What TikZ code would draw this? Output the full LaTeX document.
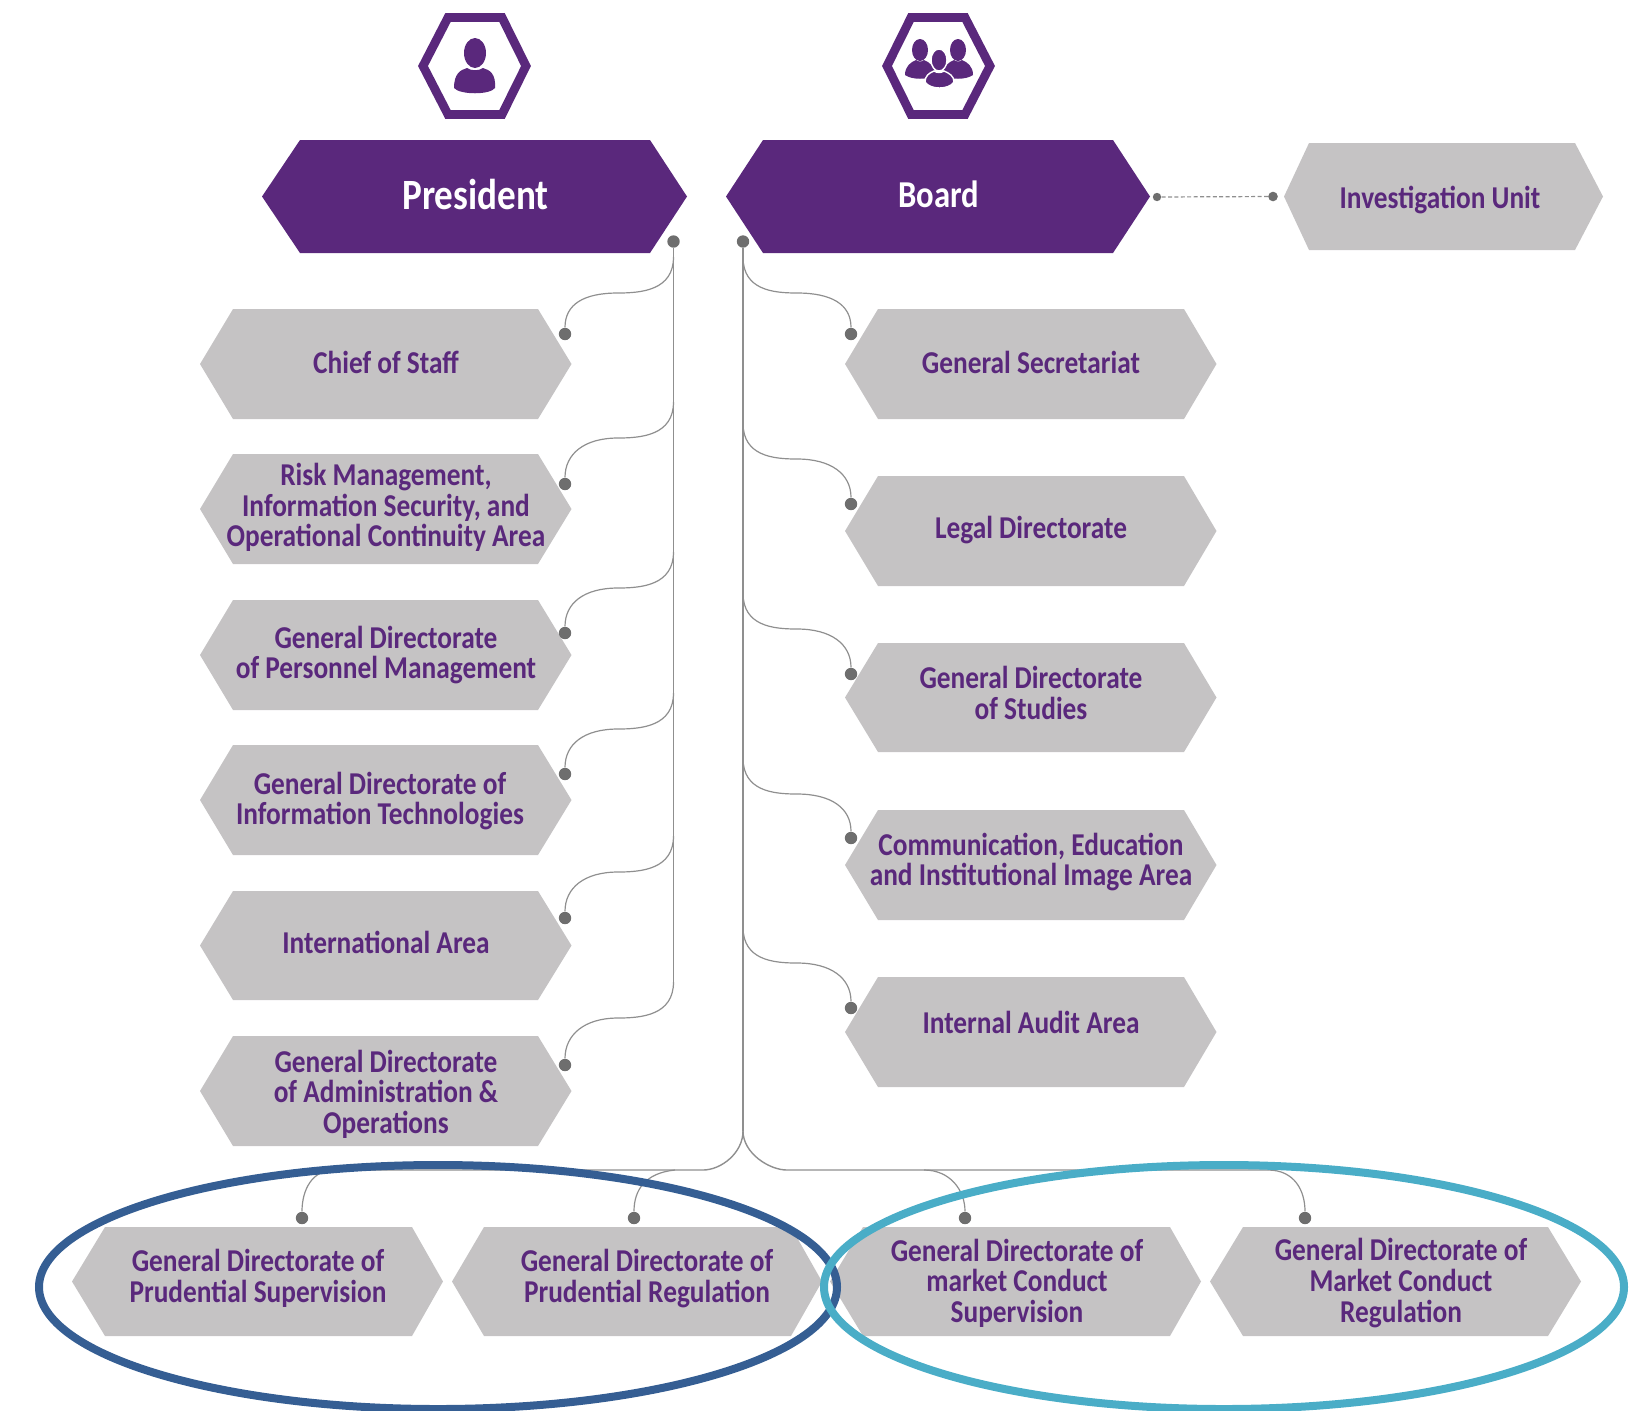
\documentclass[tikz,border=0pt]{standalone}
\usepackage{fontspec}
\setmainfont{Carlito}[BoldFont={Carlito Bold},BoldFeatures={FakeStretch=0.86},FakeStretch=0.86]
\definecolor{purp}{HTML}{5A287C}
\definecolor{greyfill}{HTML}{C5C3C4}
\definecolor{dotc}{HTML}{6E6E6E}
\definecolor{linec}{HTML}{8F8F8F}
\definecolor{bluec}{HTML}{355E93}
\definecolor{tealc}{HTML}{4AADC7}
\tikzset{
  lbl/.style={align=center,text=purp,font=\fontsize{15.9}{15.3}\selectfont\bfseries,inner sep=0pt,xshift=0.5pt},
  toplbl/.style={align=center,text=white,inner sep=0pt},
  conn/.style={draw=linec,line width=0.6pt},
  trunk/.style={draw=linec,line width=0.7pt},
  dotn/.style={circle,fill=dotc,inner sep=0pt,minimum size=6.2pt},
  ring/.style={line width=4pt}
}
% #1 name #2 fill #3 xl #4 xs1 #5 xs2 #6 xr #7 yt #8 yb
\newcommand{\hexshape}[8]{%
  \fill[#2] (#3,{(#7+#8)/2}) -- (#4,#7) -- (#5,#7) -- (#6,{(#7+#8)/2}) -- (#5,#8) -- (#4,#8) -- cycle;
  \coordinate (#1) at ({(#3+#6)/2},{(#7+#8)/2});
}
\begin{document}
\begin{tikzpicture}[x=0.5pt,y=-0.5pt]
\useasboundingbox (0,0) rectangle (1632,1410);
% icons
\draw[purp,line width=4.4pt,miter limit=10] (423,66) -- (448,17.5) -- (502,17.5) -- (526,66) -- (502,114.5) -- (448,114.5) -- cycle;
\draw[purp,line width=4.4pt] (887,66) -- (911,17.5) -- (965,17.5) -- (990,66) -- (965,114.5) -- (911,114.5) -- cycle;
\fill[purp] (475,53) ellipse [x radius=11,y radius=15];
\fill[purp] (454,88) .. controls (454,74) and (460,70) .. (467,68) .. controls (471,71) and (479,71) .. (483,68) .. controls (490,70) and (496,74) .. (495,88) .. controls (490,95) and (460,95) .. (454,88) -- cycle;
\foreach \px in {920,958}{
  \fill[purp] (\px,50) ellipse [x radius=8,y radius=11];
  \fill[purp] ({\px-15},75) .. controls ({\px-15},66) and ({\px-9},62) .. ({\px-4},60) .. controls ({\px-2},62) and ({\px+2},62) .. ({\px+4},60) .. controls ({\px+9},62) and ({\px+15},66) .. ({\px+15},75) .. controls ({\px+8},80) and ({\px-8},80) .. ({\px-15},75) -- cycle;
}
\fill[purp,draw=white,line width=0.7pt] (939,60) ellipse [x radius=8,y radius=11];
\fill[purp,draw=white,line width=0.7pt] (925,82) .. controls (925,76) and (929,73) .. (934,71) .. controls (937,73) and (941,73) .. (944,71) .. controls (949,73) and (954,76) .. (954,82) .. controls (949,90) and (930,90) .. (925,82) -- cycle;
% hexes
\hexshape{hp}{purp}{262}{300}{650}{687}{140}{253}
\hexshape{hb}{purp}{726}{763}{1113}{1150}{140}{253}
\hexshape{hi}{greyfill}{1284}{1309}{1575}{1603}{143}{250}
\foreach \n/\yt/\yb in {l1/309/419,l2/454/564,l3/600/710,l4/745/855,l5/891/1000,l6/1036/1146}
  {\hexshape{\n}{greyfill}{200}{233}{538}{571.5}{\yt}{\yb}}
\foreach \n/\yt/\yb in {r1/309/419,r2/476/586,r3/643/752,r4/810/920,r5/977/1087}
  {\hexshape{\n}{greyfill}{845}{878}{1184}{1216.5}{\yt}{\yb}}
\hexshape{b1}{greyfill}{72}{105}{412}{443}{1227}{1336}
\hexshape{b2}{greyfill}{452}{484}{791}{822}{1227}{1336}
\hexshape{b3}{greyfill}{830}{863}{1170}{1201}{1227}{1336}
\hexshape{b4}{greyfill}{1210}{1243}{1548}{1581}{1227}{1336}
% text
\node[toplbl,font=\fontsize{21.6}{22}\selectfont\bfseries] (tp) at (475.5,194) {President};
\node[toplbl,font=\fontsize{19}{20}\selectfont\bfseries] (tb) at (939,194.5) {Board};
\node[lbl] (ti) at (1439,200) {Investigation Unit};
\node[lbl] (tl1) at (385,362.5) {Chief of Staff};
\node[lbl] (tl2) at (385,507.5) {Risk Management,\\Information Security, and\\Operational Continuity Area};
\node[lbl] (tl3) at (385,655) {General Directorate\\of Personnel Management};
\node[lbl] (tl4) at (379,801) {General Directorate of\\Information Technologies};
\node[lbl] (tl5) at (385,942) {International Area};
\node[lbl] (tl6) at (385,1094) {General Directorate\\of Administration \&\\Operations};
\node[lbl] (tr1) at (1030,362.5) {General Secretariat};
\node[lbl] (tr2) at (1030,530) {Legal Directorate};
\node[lbl] (tr3) at (1030,693) {General Directorate\\of Studies};
\node[lbl] (tr4) at (1030,862) {Communication, Education\\and Institutional Image Area};
\node[lbl] (tr5) at (1030,1022) {Internal Audit Area};
\node[lbl] (tb1) at (257,1278.5) {General Directorate of\\Prudential Supervision};
\node[lbl] (tb2) at (646,1278.5) {General Directorate of\\Prudential Regulation};
\node[lbl] (tb3) at (1016,1283) {General Directorate of\\market Conduct\\Supervision};
\node[lbl] (tb4) at (1400,1283) {General Directorate of\\Market Conduct\\Regulation};
% dots
\node[dotn] (pd) at (673.5,241.5) {};
\node[dotn] (bd) at (743,241.5) {};
\node[dotn,minimum size=4.2pt] (bo) at (1157,197) {};
\node[dotn,minimum size=4.8pt] (io) at (1273,196.5) {};
\foreach \n/\y in {1/334,2/484,3/633,4/774,5/918,6/1065}
  \node[dotn] (ld\n) at (565,\y) {};
\foreach \n/\y in {1/334,2/504,3/674,4/838,5/1008}
  \node[dotn] (rd\n) at (851,\y) {};
\node[dotn] (bd1) at (302,1218) {};
\node[dotn] (bd2) at (634,1218) {};
\node[dotn] (bd3) at (965,1218) {};
\node[dotn] (bd4) at (1305,1218) {};
% connectors
\draw[draw=linec,line width=0.6pt,dashed,dash pattern=on 2pt off 1.2pt] (bo) -- (io);
\coordinate (lend) at (673.5,982);
\coordinate (rend) at (743,1131);
\draw[trunk] (pd) -- (lend);
\draw[trunk] (bd) -- (rend);
\foreach \n/\m in {1/293,2/438,3/588,4/729,5/872,6/1018}{
  \coordinate (lj\n) at (673.5,\m-36);
  \coordinate (lm\n) at (618,\m);
  \draw[conn] (lj\n) .. controls +(0,33) and +(24,0) .. (lm\n) .. controls +(-34,0) and +(0,-30) .. (ld\n);
}
\foreach \n/\m in {1/293,2/459,3/629,4/794,5/963}{
  \coordinate (rj\n) at (743,\m-36);
  \coordinate (rm\n) at (797,\m);
  \draw[conn] (rj\n) .. controls +(0,33) and +(-24,0) .. (rm\n) .. controls +(34,0) and +(0,-30) .. (rd\n);
}
% bottom fork
\coordinate (fl) at (703,1170);
\coordinate (fr) at (787,1170);
\coordinate (fb1) at (334,1170);
\coordinate (fb2) at (675,1170);
\coordinate (fb3) at (924,1170);
\coordinate (fb4) at (1268,1170);
\draw[trunk] (rend) .. controls +(0,22) and +(18,0) .. (fl) -- (fb1);
\draw[trunk] (rend) .. controls +(0,22) and +(-18,0) .. (fr) -- (fb4);
\draw[conn] (fb1) .. controls +(-22,0) and +(0,-28) .. (bd1);
\draw[conn] (fb2) .. controls +(-30,3) and +(0,-28) .. (bd2);
\draw[conn] (fb3) .. controls +(26,0) and +(0,-28) .. (bd3);
\draw[conn] (fb4) .. controls +(26,0) and +(0,-28) .. (bd4);
% rings
\draw[bluec,ring] (438,1287) ellipse [x radius=399,y radius=122];
\draw[tealc,ring] (1224,1287) ellipse [x radius=400,y radius=122];
\end{tikzpicture}
\end{document}
